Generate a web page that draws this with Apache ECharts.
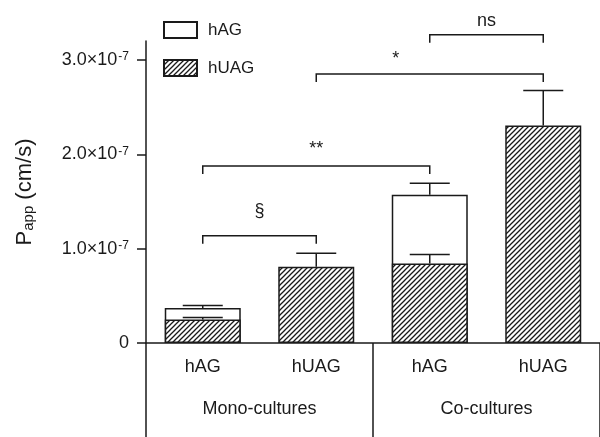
<!DOCTYPE html>
<html>
<head>
<meta charset="utf-8">
<script src="https://cdn.jsdelivr.net/npm/echarts@6/dist/echarts.min.js"></script>
<style>
  html, body { margin: 0; padding: 0; background: #fff; }
  #chart { width: 600px; height: 437px; }
</style>
</head>
<body>
<div id="chart"></div>
<script>
// Papp values in units of 1e-7 cm/s
const categories = ['hAG', 'hUAG', 'hAG', 'hUAG'];
const groups = ['Mono-cultures', 'Co-cultures'];
const hagValues = [0.372, null, 1.571, null];
const hagErrors = [0.025, null, 0.121, null];
const huagValues = [0.25, 0.807, 0.843, 2.304];
const huagErrors = [0.02, 0.145, 0.095, 0.371];
const yTicks = [0, 1, 2, 3];
// significance brackets: from category, to category, height, label
const bracketFrom = [0, 0, 1, 2];
const bracketTo = [1, 2, 3, 3];
const bracketHeight = [1.136, 1.876, 2.85, 3.266];
const bracketLabels = ['§', '**', '*', 'ns'];

const ink = '#1a1a1a';
const font = '"Liberation Sans", Arial, sans-serif';
// label nudges (px) for the bracket texts
const labelNudge = [[0, -25], [0, -17], [-34, -15], [0, -14]];

function hatch() {
  const s = 5;
  const c = document.createElement('canvas');
  c.width = s; c.height = s;
  const g = c.getContext('2d');
  g.fillStyle = '#fff';
  g.fillRect(0, 0, s, s);
  g.strokeStyle = ink;
  g.lineWidth = 1.3;
  g.beginPath();
  g.moveTo(-1, s + 1); g.lineTo(s + 1, -1);
  g.moveTo(-1, 1); g.lineTo(1, -1);
  g.moveTo(s - 1, s + 1); g.lineTo(s + 1, s - 1);
  g.stroke();
  return c;
}

function errorData(values, errors) {
  return values
    .map((v, i) => (v == null ? null : [i, v, v + errors[i]]))
    .filter(d => d);
}

function renderError(params, api) {
  const base = api.coord([api.value(0), api.value(1)]);
  const top = api.coord([api.value(0), api.value(2)]);
  const style = { stroke: ink, lineWidth: 1.5 };
  return {
    type: 'group',
    children: [
      { type: 'line', shape: { x1: base[0], y1: base[1], x2: top[0], y2: top[1] }, style },
      { type: 'line', shape: { x1: top[0] - 20, y1: top[1], x2: top[0] + 20, y2: top[1] }, style }
    ]
  };
}

function renderBracket(params, api) {
  const i = params.dataIndex;
  const a = api.coord([api.value(0), api.value(2)]);
  const b = api.coord([api.value(1), api.value(2)]);
  const t = 8;
  return {
    type: 'group',
    children: [
      {
        type: 'polyline',
        shape: { points: [[a[0], a[1] + t], [a[0], a[1]], [b[0], b[1]], [b[0], b[1] + t]] },
        style: { stroke: ink, lineWidth: 1.5, fill: null }
      },
      {
        type: 'text',
        x: (a[0] + b[0]) / 2 + labelNudge[i][0],
        y: a[1] + labelNudge[i][1],
        style: {
          text: bracketLabels[i], fill: ink, font: '18px ' + font,
          align: 'center', verticalAlign: 'middle'
        }
      }
    ]
  };
}

const chart = echarts.init(document.getElementById('chart'));
chart.setOption({
  animation: false,
  textStyle: { fontFamily: font, color: ink },
  legend: {
    data: ['hAG', 'hUAG'],
    orient: 'vertical',
    left: 163,
    top: 21,
    padding: 0,
    itemWidth: 33,
    itemHeight: 16,
    itemGap: 20,
    icon: 'rect',
    textStyle: { fontSize: 17, color: ink, padding: [0, 0, 0, 6] }
  },
  grid: { left: 146, right: -2, top: 41, bottom: 94 },
  xAxis: [
    {
      type: 'category',
      data: categories,
      axisLine: { lineStyle: { color: ink, width: 1.5 } },
      axisTick: { show: false },
      axisLabel: { fontSize: 18, color: ink, margin: 15 }
    },
    {
      type: 'category',
      data: groups,
      position: 'bottom',
      axisLine: { show: false },
      axisTick: { show: true, length: 94, alignWithLabel: false, lineStyle: { color: ink, width: 1.5 } },
      axisLabel: { fontSize: 18, color: ink, margin: 57 }
    }
  ],
  yAxis: {
    type: 'value',
    min: 0,
    max: 3.2,
    interval: 1,
    name: '{p|P}{s|app}{p| (cm/s)}',
    nameLocation: 'middle',
    nameRotate: 90,
    nameGap: 110,
    nameTextStyle: {
      rich: {
        p: { fontSize: 22, lineHeight: 22, verticalAlign: 'top', color: ink, fontFamily: font },
        s: { fontSize: 15, lineHeight: 15, verticalAlign: 'bottom', padding: [12, 0, 0, 0], color: ink, fontFamily: font }
      }
    },
    axisLine: { show: true, lineStyle: { color: ink, width: 1.5 } },
    axisTick: { show: true, length: 9, customValues: yTicks, lineStyle: { color: ink, width: 1.5 } },
    axisLabel: {
      customValues: yTicks,
      margin: 17,
      formatter: v => (v === 0 ? '{m|0}' : '{m|' + v.toFixed(1) + '×10}{e|-7}'),
      rich: {
        m: { fontSize: 18, lineHeight: 18, verticalAlign: 'bottom', padding: [4, 0, 0, 0], color: ink, fontFamily: font },
        e: { fontSize: 12, lineHeight: 12, verticalAlign: 'top', padding: [0, 0, 0, 1], color: ink, fontFamily: font }
      }
    },
    splitLine: { show: false }
  },
  series: [
    {
      name: 'hAG',
      type: 'bar',
      data: hagValues,
      barWidth: 76,
      barGap: '-100%',
      itemStyle: { color: '#fff', borderColor: ink, borderWidth: 1.5 }
    },
    {
      name: 'hUAG',
      type: 'bar',
      data: huagValues,
      barWidth: 76,
      barGap: '-100%',
      itemStyle: { color: { image: hatch(), repeat: 'repeat' }, borderColor: ink, borderWidth: 1.5 }
    },
    {
      type: 'custom',
      renderItem: renderError,
      data: errorData(hagValues, hagErrors),
      encode: { x: 0, y: [1, 2] },
      z: 5
    },
    {
      type: 'custom',
      renderItem: renderError,
      data: errorData(huagValues, huagErrors),
      encode: { x: 0, y: [1, 2] },
      z: 5
    },
    {
      type: 'custom',
      renderItem: renderBracket,
      clip: false,
      data: bracketFrom.map((f, i) => [f, bracketTo[i], bracketHeight[i]]),
      encode: { x: [0, 1], y: 2 },
      z: 5
    }
  ]
});
</script>
</body>
</html>
